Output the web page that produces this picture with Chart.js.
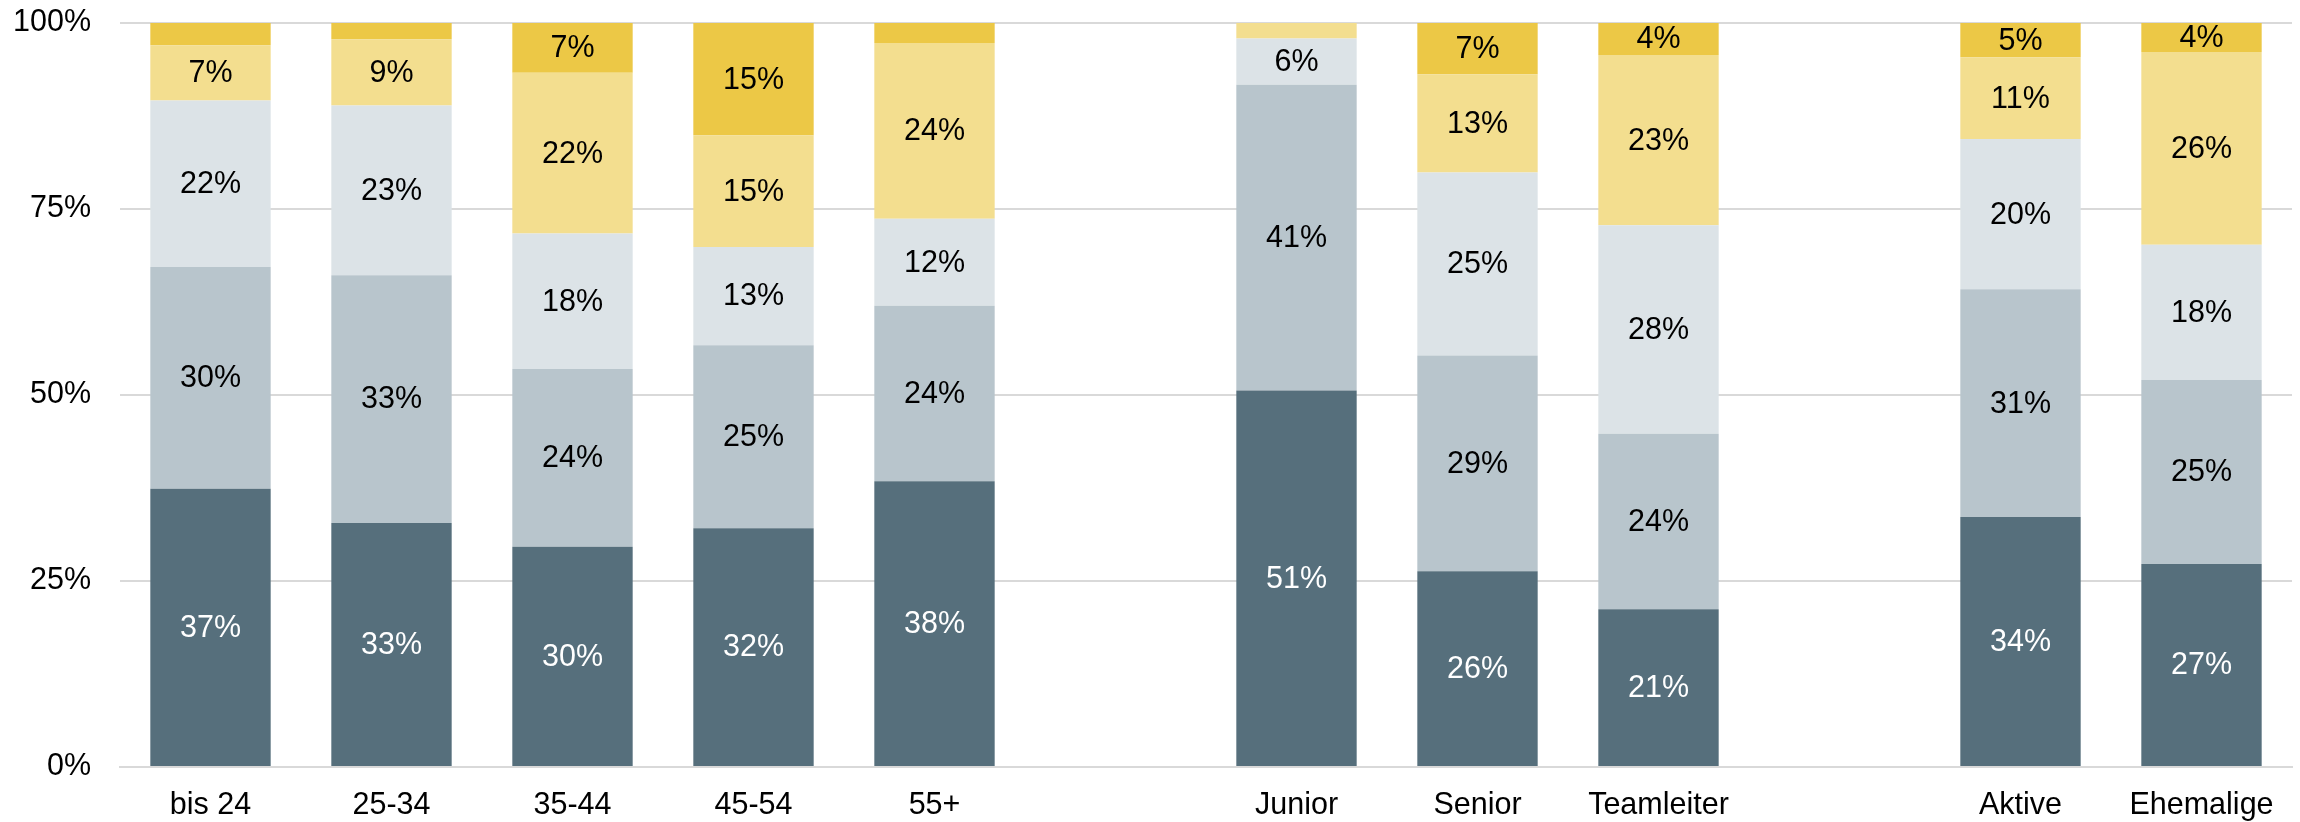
<!DOCTYPE html>
<html>
<head>
<meta charset="utf-8">
<script src="https://cdn.jsdelivr.net/npm/chart.js@4/dist/chart.umd.min.js"></script>
<style>
  html, body { margin: 0; padding: 0; background: #ffffff; }
  #wrap { width: 2300px; height: 822px; position: relative; }
</style>
</head>
<body>
<div id="wrap"><canvas id="c" width="2300" height="822"></canvas></div>
<script>
const categories = ['bis 24', '25-34', '35-44', '45-54', '55+', '', 'Junior', 'Senior', 'Teamleiter', '', 'Aktive', 'Ehemalige'];
const seriesA = [37.4, 32.8, 29.6, 32.1, 38.4, null, 50.6, 26.3, 21.2, null, 33.6, 27.3];
const seriesB = [29.8, 33.3, 23.9, 24.6, 23.6, null, 41.1, 29.0, 23.6, null, 30.6, 24.7];
const seriesC = [22.4, 22.8, 18.2, 13.2, 11.7, null, 6.2, 24.6, 28.0, null, 20.2, 18.2];
const seriesD = [7.4, 8.9, 21.6, 15.0, 23.6, null, 2.1, 13.2, 22.9, null, 11.0, 25.9];
const seriesE = [3.0, 2.2, 6.7, 15.1, 2.7, null, 0, 6.9, 4.3, null, 4.6, 3.9];
const yTicks = [0, 25, 50, 75, 100];

const colors = ['#566f7c', '#b8c5cc', '#dce3e7', '#f3de8f', '#ecc846'];
const labelColors = ['#ffffff', '#000000', '#000000', '#000000', '#000000'];
const FONT = 'Liberation Sans, Arial, sans-serif';
const FSIZE = 30.5;

const segLabels = {
  id: 'segLabels',
  afterDatasetsDraw(chart) {
    const ctx = chart.ctx;
    ctx.save();
    ctx.font = FSIZE + 'px ' + FONT;
    ctx.textAlign = 'center';
    ctx.textBaseline = 'middle';
    chart.data.datasets.forEach((ds, di) => {
      const meta = chart.getDatasetMeta(di);
      meta.data.forEach((bar, i) => {
        const v = ds.data[i];
        if (v == null || v < 3.5) return;
        const p = bar.getProps(['x', 'y', 'base'], true);
        ctx.fillStyle = labelColors[di];
        ctx.fillText(Math.round(v) + '%', p.x, (p.y + p.base) / 2 + 1);
      });
    });
    ctx.restore();
  }
};

const mk = (data, i) => ({
  data: data,
  backgroundColor: colors[i],
  borderWidth: 0,
  categoryPercentage: 1.0,
  barPercentage: 0.665
});

new Chart(document.getElementById('c'), {
  type: 'bar',
  data: {
    labels: categories,
    datasets: [mk(seriesA, 0), mk(seriesB, 1), mk(seriesC, 2), mk(seriesD, 3), mk(seriesE, 4)]
  },
  options: {
    responsive: false,
    animation: false,
    layout: { padding: { left: 0, right: 8, top: 23, bottom: 0 } },
    plugins: { legend: { display: false }, tooltip: { enabled: false } },
    scales: {
      x: {
        stacked: true,
        grid: { display: false, drawTicks: false },
        border: { display: true, color: '#d9d9d9', width: 2 },
        ticks: { color: '#000000', font: { family: FONT, size: FSIZE }, padding: 20, maxRotation: 0, autoSkip: false },
        afterFit(s) { s.height = 55; s.paddingLeft = 0; s.paddingRight = 0; }
      },
      y: {
        stacked: true,
        min: 0, max: 100,
        afterBuildTicks(s) { s.ticks = yTicks.map(v => ({ value: v })); },
        grid: { color: '#d9d9d9', lineWidth: 2, drawTicks: false },
        border: { display: false },
        ticks: { color: '#000000', font: { family: FONT, size: FSIZE }, padding: 29, callback: v => v + '%' },
        afterFit(s) { s.width = 120; s.paddingTop = 0; s.paddingBottom = 0; }
      }
    }
  },
  plugins: [segLabels]
});
</script>
</body>
</html>
